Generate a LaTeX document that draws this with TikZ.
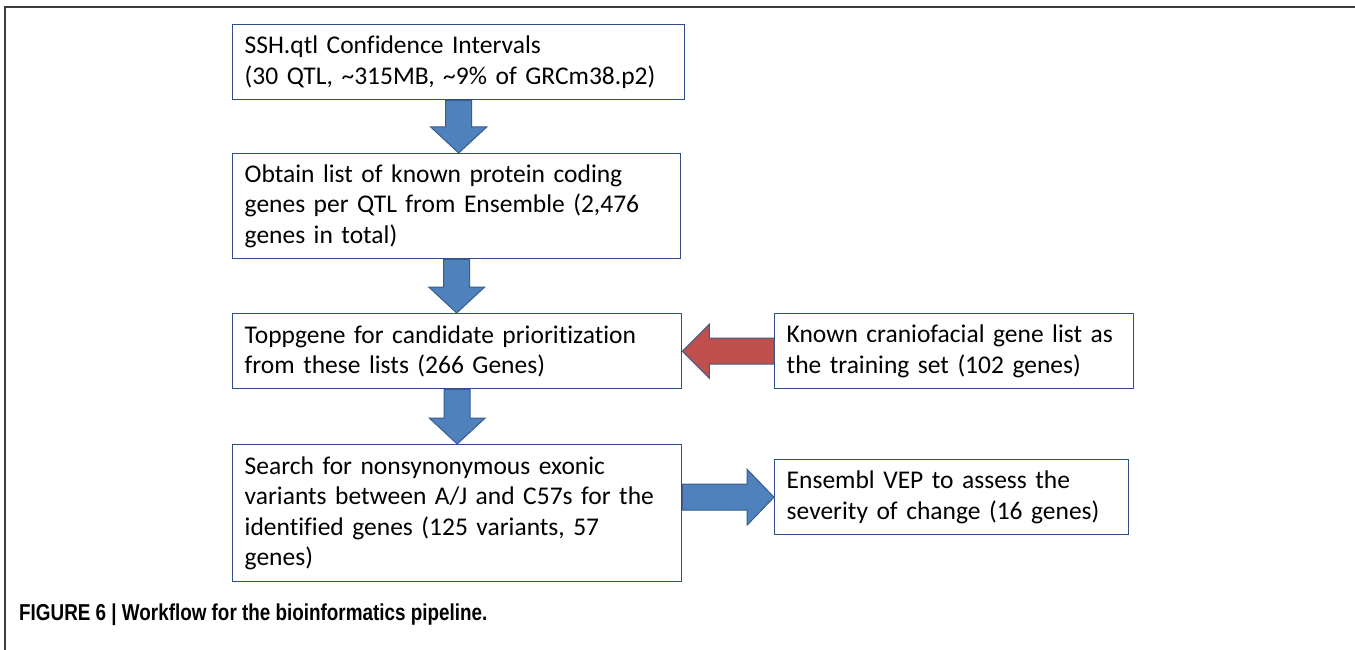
\documentclass[tikz,border=0pt]{standalone}
\usepackage{fontspec}
\setmainfont{Carlito}[Ligatures=CommonOff]
\newfontfamily\capfont[FakeStretch=0.82]{Liberation Sans}
\usetikzlibrary{calc}
\definecolor{boxedge}{RGB}{47,76,140}
\definecolor{arrowfill}{RGB}{79,129,189}
\definecolor{arrowedge}{RGB}{56,93,138}
\definecolor{redfill}{RGB}{192,80,77}
\definecolor{frameline}{RGB}{60,60,60}
\newcommand\downflow[2]{%
  \path[flow] let \p1=(#1.south), \p2=(#2.north) in
    (\x1-13,\y1) -- (\x1+13,\y1) -- (\x1+13,\y2+26) -- (\x1+28,\y2+26) --
    (\x1,\y2) -- (\x1-28,\y2+26) -- (\x1-13,\y2+26) -- cycle;}
\begin{document}
\begin{tikzpicture}[x=1pt,y=1pt,
  stepbox/.style={draw=boxedge, line width=1.4pt, fill=white, rectangle,
    inner xsep=12pt, inner ysep=0pt, align=left, anchor=north west,
    font=\fontsize{25.5}{30.5}\selectfont},
  flow/.style={fill=arrowfill, draw=arrowedge, line width=1pt, line join=miter},
  redflow/.style={flow, fill=redfill},
  caption/.style={anchor=base west, inner sep=0pt,
    font=\capfont\bfseries\fontsize{23}{27}\selectfont}]
\useasboundingbox (0,0) rectangle (1355,-650);
\fill[white] (0,0) rectangle (1355,-650);
\draw[frameline, line width=1.5pt] (1355,-7) -- (5,-7) -- (5,-650);

\node[stepbox, text width=428pt, minimum height=75pt] (b1) at (232,-24)
  {SSH.qtl Confidence Intervals\\(30 QTL, \textasciitilde315MB, \textasciitilde9\% of GRCm38.p2)};
\node[stepbox, text width=424pt, minimum height=105pt] (b2) at (232,-153)
  {Obtain list of known protein coding\\genes per QTL from Ensemble (2,476\\genes in total)};
\node[stepbox, text width=425pt, minimum height=75pt] (b3) at (232,-313)
  {Toppgene for candidate prioritization\\from these lists (266 Genes)};
\node[stepbox, text width=335pt, minimum height=75pt] (b4) at (774,-313)
  {Known craniofacial gene list as\\the training set (102 genes)};
\node[stepbox, text width=425pt, minimum height=137pt] (b5) at (232,-444)
  {Search for nonsynonymous exonic\\variants between A/J and C57s for the\\identified genes (125 variants, 57\\genes)};
\node[stepbox, text width=330pt, minimum height=75pt] (b6) at (774,-459)
  {Ensembl VEP to assess the\\severity of change (16 genes)};

\downflow{b1}{b2}
\downflow{b2}{b3}
\downflow{b3}{b5}

\path[redflow] let \p1=(b4.west), \p2=(b3.east) in
  (\x1,\y1+13) -- (\x2+27,\y1+13) -- (\x2+27,\y1+27) -- (\x2,\y1) --
  (\x2+27,\y1-27) -- (\x2+27,\y1-13) -- (\x1,\y1-13) -- cycle;
\path[flow] let \p1=(b5.east), \p2=(b6.west) in
  (\x1,\y2+13) -- (\x2-27,\y2+13) -- (\x2-27,\y2+28) -- (\x2,\y2) --
  (\x2-27,\y2-28) -- (\x2-27,\y2-13) -- (\x1,\y2-13) -- cycle;

\node[caption] (cap) at (19,-620) {FIGURE 6 | Workflow for the bioinformatics pipeline.};
\end{tikzpicture}
\end{document}
